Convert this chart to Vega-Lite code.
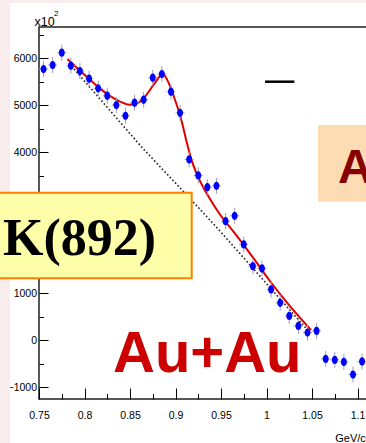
{
  "$schema": "https://vega.github.io/schema/vega-lite/v6.json",
  "width": 328,
  "height": 372,
  "autosize": {"type": "none"},
  "padding": {"left": 39, "top": 27, "right": 0, "bottom": 44},
  "background": "white",
  "config": {
    "font": "Liberation Sans",
    "view": {"stroke": "#222222", "strokeWidth": 1.5, "fill": "white"},
    "axis": {
      "domain": false,
      "grid": false,
      "labelFont": "Liberation Sans",
      "labelFontSize": 10.5,
      "labelColor": "#000000",
      "tickColor": "#000000",
      "tickWidth": 1,
      "titleFont": "Liberation Sans",
      "titleFontSize": 11,
      "titleFontWeight": "normal",
      "titleColor": "#000000"
    }
  },
  "datasets": {
    "counts": [
      {"m": 0.755, "v": 5766, "err": 170, "dm": 0.005},
      {"m": 0.765, "v": 5851, "err": 170, "dm": 0.005},
      {"m": 0.775, "v": 6113, "err": 170, "dm": 0.005},
      {"m": 0.785, "v": 5836, "err": 170, "dm": 0.005},
      {"m": 0.795, "v": 5723, "err": 170, "dm": 0.005},
      {"m": 0.805, "v": 5560, "err": 170, "dm": 0.005},
      {"m": 0.815, "v": 5355, "err": 170, "dm": 0.005},
      {"m": 0.825, "v": 5198, "err": 170, "dm": 0.005},
      {"m": 0.835, "v": 5000, "err": 170, "dm": 0.005},
      {"m": 0.845, "v": 4772, "err": 170, "dm": 0.005},
      {"m": 0.855, "v": 5049, "err": 170, "dm": 0.005},
      {"m": 0.865, "v": 5113, "err": 170, "dm": 0.005},
      {"m": 0.875, "v": 5581, "err": 170, "dm": 0.005},
      {"m": 0.885, "v": 5658, "err": 170, "dm": 0.005},
      {"m": 0.895, "v": 5283, "err": 170, "dm": 0.005},
      {"m": 0.905, "v": 4836, "err": 170, "dm": 0.005},
      {"m": 0.915, "v": 3845, "err": 170, "dm": 0.005},
      {"m": 0.925, "v": 3504, "err": 170, "dm": 0.005},
      {"m": 0.935, "v": 3255, "err": 170, "dm": 0.005},
      {"m": 0.945, "v": 3283, "err": 170, "dm": 0.005},
      {"m": 0.955, "v": 2532, "err": 170, "dm": 0.005},
      {"m": 0.965, "v": 2645, "err": 170, "dm": 0.005},
      {"m": 0.975, "v": 2036, "err": 170, "dm": 0.005},
      {"m": 0.985, "v": 1574, "err": 170, "dm": 0.005},
      {"m": 0.995, "v": 1525, "err": 170, "dm": 0.005},
      {"m": 1.005, "v": 1079, "err": 170, "dm": 0.005},
      {"m": 1.015, "v": 794, "err": 170, "dm": 0.005},
      {"m": 1.025, "v": 517, "err": 170, "dm": 0.005},
      {"m": 1.035, "v": 304, "err": 170, "dm": 0.005},
      {"m": 1.045, "v": 163, "err": 170, "dm": 0.005},
      {"m": 1.055, "v": 198, "err": 170, "dm": 0.005},
      {"m": 1.065, "v": -398, "err": 170, "dm": 0.005},
      {"m": 1.075, "v": -419, "err": 170, "dm": 0.005},
      {"m": 1.085, "v": -461, "err": 170, "dm": 0.005},
      {"m": 1.095, "v": -730, "err": 170, "dm": 0.005},
      {"m": 1.105, "v": -453, "err": 170, "dm": 0.005}
    ],
    "fit": [
      {"m": 0.7813, "v": 5979},
      {"m": 0.7945, "v": 5740},
      {"m": 0.8055, "v": 5550},
      {"m": 0.8165, "v": 5360},
      {"m": 0.8275, "v": 5200},
      {"m": 0.8385, "v": 5080},
      {"m": 0.8495, "v": 5005},
      {"m": 0.858, "v": 5035},
      {"m": 0.866, "v": 5170},
      {"m": 0.877, "v": 5460},
      {"m": 0.886, "v": 5660},
      {"m": 0.8934, "v": 5430},
      {"m": 0.8989, "v": 5140},
      {"m": 0.9044, "v": 4820},
      {"m": 0.908, "v": 4560},
      {"m": 0.9118, "v": 4250},
      {"m": 0.9173, "v": 3850},
      {"m": 0.9228, "v": 3560},
      {"m": 0.93, "v": 3270},
      {"m": 0.9374, "v": 3020},
      {"m": 0.9483, "v": 2690},
      {"m": 0.9667, "v": 2234},
      {"m": 0.985, "v": 1760},
      {"m": 1.0033, "v": 1270},
      {"m": 1.0216, "v": 820},
      {"m": 1.049, "v": 213}
    ],
    "background": [
      {"m": 0.783, "v": 5890},
      {"m": 0.864, "v": 4080},
      {"m": 0.9176, "v": 2979},
      {"m": 0.948, "v": 2340},
      {"m": 1.048, "v": 153}
    ],
    "margins": [
      {"m": 0.70, "m2": 0.7181, "v": 7300, "v2": -2300},
      {"m": 0.70, "m2": 1.13, "v": 7300, "v2": 7170}
    ]
  },
  "encoding": {
    "x": {
      "field": "m",
      "type": "quantitative",
      "scale": {"domain": [0.75, 1.1104], "nice": false, "zero": false},
      "axis": {
        "values": [0.75, 0.775, 0.8, 0.825, 0.85, 0.875, 0.9, 0.925, 0.95, 0.975, 1, 1.025, 1.05, 1.075, 1.1],
        "format": "~g",
        "labelExpr": "round(datum.value * 1000) % 50 == 0 ? datum.label : ''",
        "tickSize": {"condition": {"test": "round(datum.value * 1000) % 50 == 0", "value": -11}, "value": -5.5},
        "labelPadding": 22,
        "labelFlush": false,
        "labelOverlap": false,
        "title": "GeV/c²",
        "titleAnchor": "end",
        "titleAlign": "right",
        "titleBaseline": "alphabetic",
        "titleX": 330,
        "titleY": 42
      }
    },
    "y": {
      "field": "v",
      "type": "quantitative",
      "scale": {"domain": [-1250, 6660], "nice": false, "zero": false},
      "axis": {
        "values": [-1000, -500, 0, 500, 1000, 1500, 2000, 2500, 3000, 3500, 4000, 4500, 5000, 5500, 6000, 6500],
        "format": "d",
        "labelExpr": "datum.value % 1000 == 0 ? datum.label : ''",
        "tickSize": {"condition": {"test": "datum.value % 1000 == 0", "value": -9}, "value": -4.5},
        "labelPadding": 11.5,
        "labelFlush": false,
        "labelOverlap": false,
        "title": "x10",
        "titleFontSize": 12.5,
        "titleAngle": 0,
        "titleAlign": "left",
        "titleBaseline": "alphabetic",
        "titleX": -5,
        "titleY": -2
      }
    }
  },
  "layer": [
    {
      "data": {"name": "margins"},
      "mark": {"type": "rect", "fill": "#f9ecec", "clip": false},
      "encoding": {"x2": {"field": "m2"}, "y2": {"field": "v2"}}
    },
    {
      "data": {"name": "background"},
      "mark": {"type": "line", "color": "#222222", "strokeWidth": 1.6, "strokeDash": [1.6, 2.2]},
      "encoding": {}
    },
    {
      "data": {"name": "fit"},
      "mark": {"type": "line", "color": "#e00000", "strokeWidth": 2, "interpolate": "monotone"},
      "encoding": {}
    },
    {
      "data": {"name": "counts"},
      "mark": {"type": "errorbar", "ticks": false, "thickness": 1, "color": "#a0a0b0"},
      "encoding": {"yError": {"field": "err"}}
    },
    {
      "data": {"name": "counts"},
      "mark": {"type": "errorbar", "ticks": false, "thickness": 1, "color": "#a0a0b0"},
      "encoding": {"xError": {"field": "dm"}}
    },
    {
      "data": {"name": "counts"},
      "mark": {
        "type": "point",
        "filled": true,
        "opacity": 1,
        "color": "#0000ff",
        "size": 44,
        "shape": "M0,-1.25A0.9,1.25,0,1,1,0,1.25A0.9,1.25,0,1,1,0,-1.25Z"
      }
    },
    {
      "data": {"values": [{"m": 0.9984, "m2": 1.0306, "v": 5497}]},
      "mark": {"type": "rule", "color": "#000000", "strokeWidth": 2.5},
      "encoding": {"x2": {"field": "m2"}}
    },
    {
      "data": {"values": [{"m": 0.7665, "v": 6890, "label": "2"}]},
      "mark": {"type": "text", "clip": false, "align": "left", "baseline": "alphabetic", "font": "Liberation Sans", "fontSize": 8, "color": "#000000"},
      "encoding": {"text": {"field": "label"}}
    },
    {
      "data": {"values": [{"m": 1.0566, "m2": 1.1137, "v": 4576, "v2": 2945}]},
      "mark": {"type": "rect", "fill": "#fddcb4", "clip": false},
      "encoding": {"x2": {"field": "m2"}, "y2": {"field": "v2"}}
    },
    {
      "data": {"values": [{"m": 1.0786, "v": 3343, "label": "A"}]},
      "mark": {"type": "text", "clip": false, "align": "left", "baseline": "alphabetic", "font": "Liberation Sans", "fontWeight": "bold", "fontSize": 48, "color": "#880000"},
      "encoding": {"text": {"field": "label"}}
    },
    {
      "data": {"values": [{"m": 0.703, "m2": 0.9178, "v": 3137, "v2": 1317}]},
      "mark": {"type": "rect", "fill": "#ffffaa", "stroke": "#ff8000", "strokeWidth": 2, "clip": false},
      "encoding": {"x2": {"field": "m2"}, "y2": {"field": "v2"}}
    },
    {
      "data": {"values": [{"m": 0.7104, "v": 1812, "label": "K(892)"}]},
      "mark": {"type": "text", "clip": false, "align": "left", "baseline": "alphabetic", "font": "Liberation Serif", "fontWeight": "bold", "fontSize": 52, "color": "#000000"},
      "encoding": {"text": {"field": "label"}}
    },
    {
      "data": {"values": [{"m": 0.8313, "v": -669, "label": "Au+Au"}]},
      "mark": {"type": "text", "clip": false, "align": "left", "baseline": "alphabetic", "font": "Liberation Sans", "fontWeight": "bold", "fontSize": 58, "color": "#cc0000"},
      "encoding": {"text": {"field": "label"}}
    }
  ]
}
